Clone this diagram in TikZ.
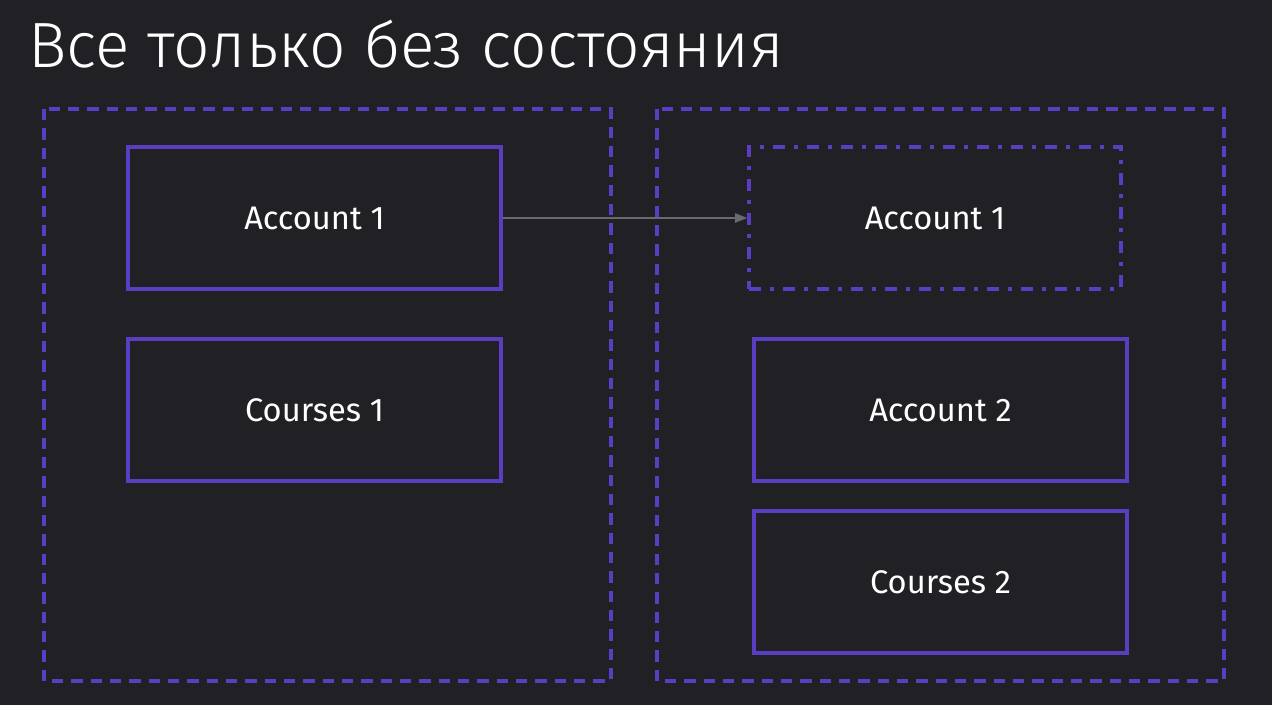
\documentclass[tikz,border=0pt]{standalone}
\usepackage{fontspec}
\setmainfont{Fira Sans}
\newfontfamily\titlefont{Fira Sans Light}
\usetikzlibrary{arrows.meta}
\definecolor{bg}{HTML}{212025}
\definecolor{vio}{HTML}{5A3EC2}
\definecolor{arr}{HTML}{6A6A6E}
\begin{document}
\begin{tikzpicture}[x=0.75pt,y=-0.75pt,
  container/.style={draw=vio,line width=2.4pt,dash pattern=on 8.5pt off 6pt},
  solidbox/.style={draw=vio,line width=2.8pt,text=white,font=\fontsize{24.5}{28}\selectfont},
  ghostbox/.style={draw=vio,line width=2.8pt,text=white,font=\fontsize{24.5}{28}\selectfont,
     dash pattern=on 9pt off 7pt on 2.5pt off 7pt},
  conn/.style={draw=arr,line width=1pt,-{Triangle[length=9pt,width=7pt]}}]
\fill[bg] (0,0) rectangle (1272,705);
\useasboundingbox (0,0) rectangle (1272,705);
\node[anchor=base west,text=white,font=\titlefont\fontsize{48}{54}\selectfont,inner sep=0pt] (title) at (28,68) {Все только без состояния};
\draw[container] (44,109) rectangle (611,681) coordinate (lc);
\draw[container] (657,109) rectangle (1224,681) coordinate (rc);
\node[solidbox,minimum width=373*0.75pt,minimum height=142*0.75pt] (acc1) at (314.5,218) {Account 1};
\node[solidbox,minimum width=373*0.75pt,minimum height=142*0.75pt] (crs1) at (314.5,410) {Courses 1};
\node[ghostbox,minimum width=372*0.75pt,minimum height=142*0.75pt] (acc1r) at (935,218) {Account 1};
\node[solidbox,minimum width=373*0.75pt,minimum height=142*0.75pt] (acc2) at (940.5,410) {Account 2};
\node[solidbox,minimum width=373*0.75pt,minimum height=142*0.75pt] (crs2) at (940.5,582) {Courses 2};
\draw[conn] (acc1.east) -- (acc1r.west);
\end{tikzpicture}
\end{document}
